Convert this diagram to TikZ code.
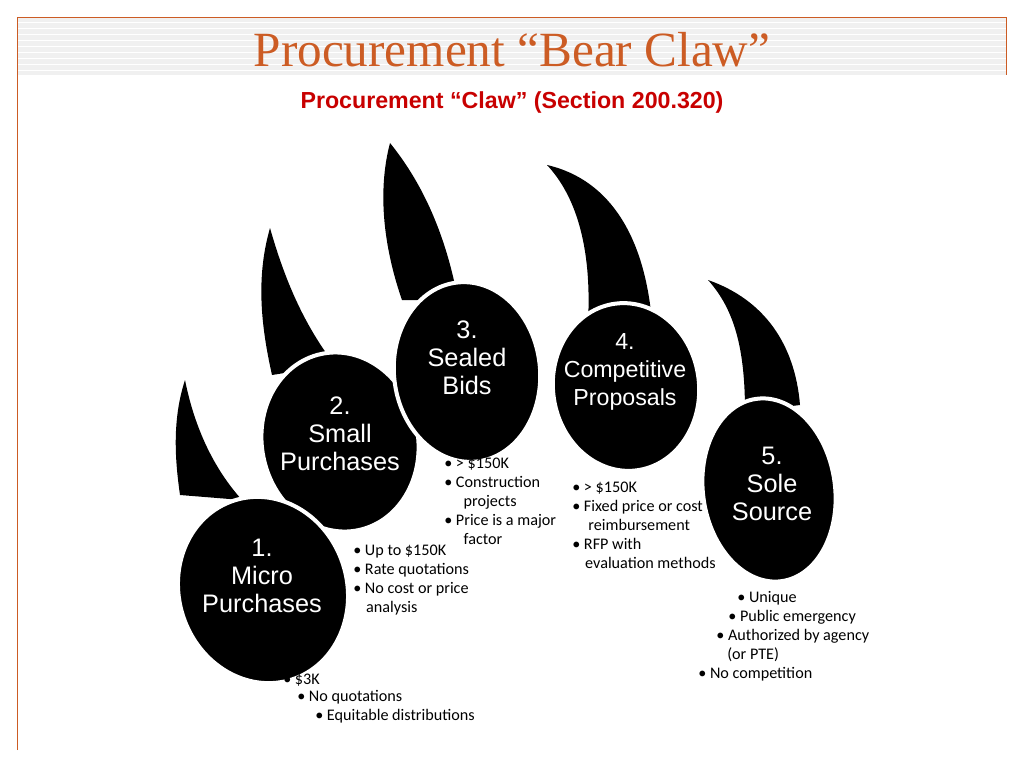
\documentclass[tikz,border=0pt]{standalone}
\usepackage{fontspec}
\setmainfont{Liberation Serif}
\setsansfont{Liberation Sans}
\newfontfamily\notefont{Carlito}
\usetikzlibrary{shapes.geometric}
\definecolor{titleorange}{RGB}{204,92,36}
\definecolor{subred}{RGB}{200,0,0}
\begin{document}
\begin{tikzpicture}[x=0.025cm,y=-0.025cm,
	pad/.style={ellipse,fill=black,draw=white,line width=1mm,inner sep=0pt},
	padtext/.style={text=white,align=center,font=\sffamily\fontsize{18}{20}\selectfont},
	claw/.style={fill=black},
	note/.style={anchor=west,font=\notefont\fontsize{11.5}{13.5}\selectfont,inner sep=0pt}]
	\useasboundingbox (0,0) rectangle (1024,768);
	% header band
	\fill[black!6] (17,17) rectangle (1006,75);
	\foreach \y in {22,28,...,72} \draw[white,line width=0.4pt] (17,\y) -- (1006,\y);
	\draw[titleorange] (17,750) -- (17,17) -- (1006,17) -- (1006,75);
	\node[text=titleorange,font=\fontsize{35}{38}\selectfont] (title) at (512,50) {Procurement “Bear Claw”};
	\node[text=subred,font=\sffamily\bfseries\fontsize{16.5}{18}\selectfont] (sub) at (512,103) {Procurement “Claw” (Section 200.320)};
	% claws
	\fill[claw] (185,380) .. controls (172,420) and (175,460) .. (180,495) -- (242,500) .. controls (215,470) and (195,430) .. (185,380);
	\fill[claw] (270,228) .. controls (255,280) and (262,330) .. (272,375) -- (335,365) .. controls (300,320) and (282,270) .. (270,228);
	\fill[claw] (390,143) .. controls (375,200) and (388,260) .. (402,300) -- (458,300) .. controls (445,230) and (420,180) .. (390,143);
	\fill[claw] (547,165) .. controls (612,180) and (645,240) .. (652,322) -- (588,322) .. controls (592,245) and (575,195) .. (547,165);
	\fill[claw] (708,280) .. controls (765,300) and (795,345) .. (800,405) -- (745,412) .. controls (745,350) and (735,310) .. (708,280);
	% pads
	\node[pad,minimum width=3.9cm,minimum height=4.5cm,rotate=12] (p2) at (340,442) {};
	\node[pad,minimum width=3.65cm,minimum height=4.5cm,rotate=6] (p3) at (467,372) {};
	\node[pad,minimum width=3.65cm,minimum height=4.2cm,rotate=7] (p4) at (626,387) {};
	\node[pad,minimum width=3.3cm,minimum height=4.6cm,rotate=8] (p5) at (769,490) {};
	\node[pad,minimum width=4.2cm,minimum height=4.7cm,rotate=18] (p1) at (263,590) {};
	\node[padtext] (t1) at (262,576) {1.\\Micro\\Purchases};
	\node[padtext] (t2) at (340,434) {2.\\Small\\Purchases};
	\node[padtext] (t3) at (467,358) {3.\\Sealed\\Bids};
	\node[padtext,font=\sffamily\fontsize{16.5}{20}\selectfont] (t4) at (625,372) {4.\\Competitive\\Proposals};
	\node[padtext] (t5) at (772,484) {5.\\Sole\\Source};
	% notes
	\node[note] (n1a) at (283,680) {• \$3K};
	\node[note] (n1b) at (297,697) {• No quotations};
	\node[note] (n1c) at (315,716) {• Equitable distributions};
	\node[note,align=left] (n2) at (353,580) {• Up to \$150K\\• Rate quotations\\• No cost or price\\\hspace*{0.8em}analysis};
	\node[note,align=left] (n3) at (444,501) {• > \$150K\\• Construction\\\hspace*{1.2em}projects\\• Price is a major\\\hspace*{1.2em}factor};
	\node[note,align=left] (n4) at (572,525) {• > \$150K\\• Fixed price or cost\\\hspace*{1em}reimbursement\\• RFP with\\\hspace*{0.8em}evaluation methods};
	\node[note] (n5a) at (737,598) {• Unique};
	\node[note] (n5b) at (728,617) {• Public emergency};
	\node[note] (n5c) at (716,636) {• Authorized by agency};
	\node[note] (n5d) at (727,655) {(or PTE)};
	\node[note] (n5e) at (698,674) {• No competition};
\end{tikzpicture}
\end{document}
